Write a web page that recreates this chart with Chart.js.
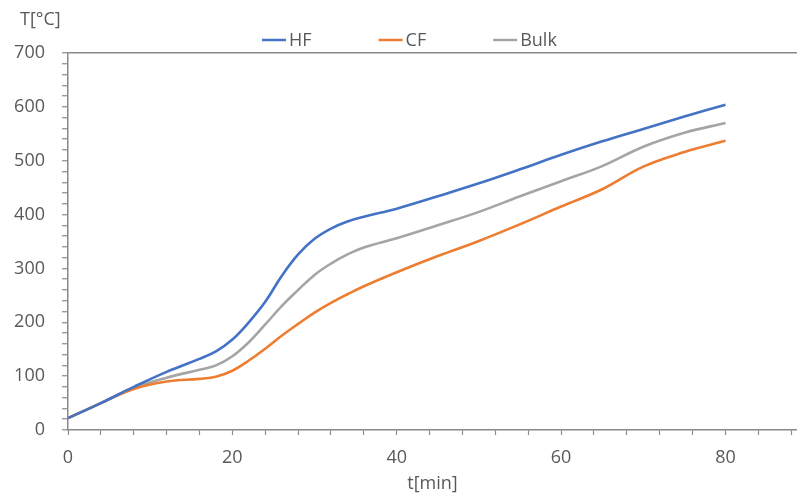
<!DOCTYPE html>
<html>
<head>
<meta charset="utf-8">
<script src="https://cdn.jsdelivr.net/npm/chart.js@4"></script>
<style>
  html, body { margin: 0; padding: 0; background: #fff; }
  #wrap { width: 797px; height: 495px; position: relative; }
</style>
</head>
<body>
<div id="wrap"><canvas id="tempChart"></canvas></div>
<script>
// Данные (время в минутах, температура в °C)
const times      = [0, 4, 8, 12, 16, 18, 20, 22, 24, 26, 28, 30, 32, 34, 36, 40, 45, 50, 55, 60, 65, 70, 75, 80];
const hfValues   = [22, 50, 80, 108, 132, 146, 168, 200, 238, 286, 326, 355, 374, 387, 396, 411, 434, 458, 484, 511, 536, 559, 582, 604];
const cfValues   = [22, 50, 76, 90, 95, 99, 110, 129, 151, 175, 197, 218, 236, 252, 267, 293, 323, 351, 382, 415, 447, 489, 516, 537];
const bulkValues = [22, 50, 78, 97, 112, 120, 137, 163, 196, 230, 260, 288, 309, 326, 339, 356, 380, 405, 434, 462, 490, 526, 552, 570];
const seriesNames = ['HF', 'CF', 'Bulk'];
const xLabelStep = 20;
const yLabelStep = 100;

const FONT = '"Open Sans", "Noto Sans", sans-serif';
const TEXT_COLOR = '#595959';
const AXIS_COLOR = '#8a8a8a';

function toPoints(values) {
    return times.map((t, i) => ({ x: t, y: values[i] }));
}

// Заголовок оси Y и легенда рисуются поверх
const extrasPlugin = {
    id: 'extras',
    afterDraw(chart) {
        const ctx = chart.ctx;
        ctx.save();
        ctx.font = '18px ' + FONT;
        ctx.fillStyle = TEXT_COLOR;
        ctx.textBaseline = 'middle';
        ctx.textAlign = 'left';
        ctx.fillText('T[°C]', 20, 20);

        let x = 262;
        const y = 40;
        chart.data.datasets.forEach(ds => {
            ctx.strokeStyle = ds.borderColor;
            ctx.lineWidth = 2.5;
            ctx.beginPath();
            ctx.moveTo(x, y);
            ctx.lineTo(x + 24, y);
            ctx.stroke();
            x += 27;
            ctx.fillStyle = TEXT_COLOR;
            ctx.fillText(ds.label, x, y + 1);
            x += ctx.measureText(ds.label).width + 67;
        });
        ctx.restore();
    }
};

const chart = new Chart(document.getElementById('tempChart').getContext('2d'), {
    type: 'line',
    data: {
        datasets: [
            { label: seriesNames[0], data: toPoints(hfValues), borderColor: '#4472C4', backgroundColor: '#4472C4' },
            { label: seriesNames[1], data: toPoints(cfValues), borderColor: '#ED7D31', backgroundColor: '#ED7D31' },
            { label: seriesNames[2], data: toPoints(bulkValues), borderColor: '#A5A5A5', backgroundColor: '#A5A5A5' }
        ]
    },
    options: {
        responsive: true,
        maintainAspectRatio: false,
        animation: false,
        layout: { padding: { top: 53, right: 0, bottom: 0, left: 0 } },
        elements: {
            point: { radius: 0 },
            line: { borderWidth: 2.6, tension: 0.4, fill: false }
        },
        plugins: {
            legend: { display: false },
            tooltip: { enabled: false }
        },
        scales: {
            x: {
                type: 'linear',
                min: 0,
                max: 88.7,
                border: { color: AXIS_COLOR, width: 1.5 },
                grid: { drawOnChartArea: false, tickLength: 5, tickColor: AXIS_COLOR, tickWidth: 1.2 },
                ticks: {
                    stepSize: 4,
                    includeBounds: false,
                    autoSkip: false,
                    maxRotation: 0,
                    padding: 0,
                    color: TEXT_COLOR,
                    // lineHeight сдвигает подписи вниз, не трогая правый отступ
                    font: { family: FONT, size: 18, lineHeight: 2.55 },
                    callback: v => (v % xLabelStep === 0 ? v : '')
                },
                title: {
                    display: true,
                    text: 't[min]',
                    color: TEXT_COLOR,
                    font: { family: FONT, size: 18 },
                    padding: { top: 0, bottom: 0 }
                },
                afterFit: s => { s.height = 65; }
            },
            y: {
                min: 0,
                max: 700,
                border: { color: AXIS_COLOR, width: 1.5 },
                grid: {
                    drawOnChartArea: true,
                    color: c => (c.tick && c.tick.value === 700 ? AXIS_COLOR : 'rgba(0,0,0,0)'),
                    lineWidth: 1.5,
                    tickLength: 6,
                    tickColor: AXIS_COLOR,
                    tickWidth: 1.2
                },
                ticks: {
                    stepSize: 20,
                    autoSkip: false,
                    padding: 17,
                    color: TEXT_COLOR,
                    font: { family: FONT, size: 18 },
                    callback: v => (v % yLabelStep === 0 ? v : '')
                },
                afterFit: s => { s.width = 68; }
            }
        }
    },
    plugins: [extrasPlugin]
});
</script>
</body>
</html>
